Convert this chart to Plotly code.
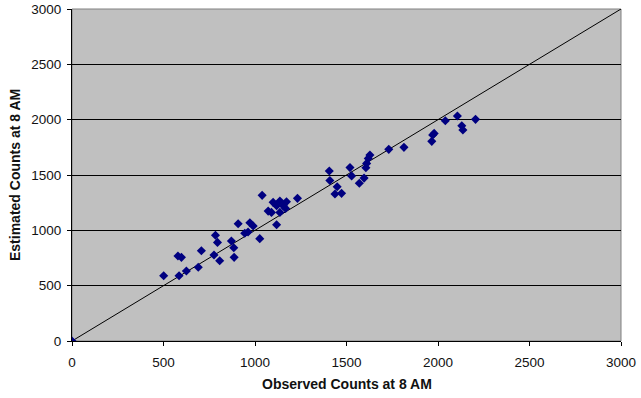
import plotly.graph_objects as go

observed = [0, 501, 585, 579, 598, 625, 690, 707, 776, 807, 784, 795, 871, 884, 886,
            908, 944, 962, 972, 990, 1026, 1039, 1072, 1090, 1136, 1099, 1136, 1172,
            1118, 1154, 1167, 1232, 1118, 1406, 1409, 1449, 1437, 1473, 1519, 1528,
            1570, 1596, 1606, 1610, 1619, 1628, 1731, 1814, 1966, 1971, 1979, 2040,
            2106, 2130, 2136, 2205]
estimated = [0, 590, 590, 768, 756, 632, 666, 816, 777, 725, 955, 891, 903, 843, 756,
             1060, 973, 985, 1069, 1039, 925, 1316, 1174, 1162, 1162, 1253, 1265, 1258,
             1222, 1222, 1198, 1289, 1050, 1536, 1450, 1394, 1328, 1334, 1567, 1492,
             1425, 1472, 1566, 1605, 1650, 1680, 1732, 1750, 1804, 1861, 1876, 1990,
             2033, 1945, 1906, 2003]
line_x = [0, 3000]
line_y = [0, 3000]
ticks = [0, 500, 1000, 1500, 2000, 2500, 3000]
x_title = "Observed Counts at 8 AM"
y_title = "Estimated Counts at 8 AM"

fig = go.Figure()
fig.add_trace(go.Scatter(x=line_x, y=line_y, mode="lines",
                         line=dict(color="black", width=1), hoverinfo="skip"))
fig.add_trace(go.Scatter(x=observed, y=estimated, mode="markers",
                         marker=dict(symbol="diamond", color="#000080", size=7,
                                     line=dict(width=0))))

font = dict(family="Liberation Sans, Arial, sans-serif", size=13.5, color="#111111")
fig.update_layout(
    width=641, height=398,
    margin=dict(l=72, r=20, t=9, b=57, autoexpand=False),
    paper_bgcolor="white", plot_bgcolor="#c0c0c0",
    showlegend=False, font=font,
    xaxis=dict(range=[0, 3000], tickvals=ticks, showgrid=False, zeroline=False,
               showline=True, linecolor="black", linewidth=1, automargin=False,
               ticks="outside", ticklen=4, tickcolor="black", ticklabelstandoff=5),
    yaxis=dict(range=[0, 3000], tickvals=ticks, showgrid=True, gridcolor="black",
               gridwidth=1, zeroline=False, automargin=False,
               showline=True, linecolor="black", linewidth=1,
               ticks="outside", ticklen=4, tickcolor="black", ticklabelstandoff=3),
    shapes=[dict(type="rect", xref="x domain", yref="y domain", x0=0, x1=1, y0=0, y1=1,
                 line=dict(color="#808080", width=1), layer="below")],
    annotations=[
        dict(text="<b>" + x_title + "</b>", xref="paper", yref="paper", x=0.5, y=0,
             yshift=-43, yanchor="middle", showarrow=False,
             font=dict(size=14, color="#111111")),
        dict(text="<b>" + y_title + "</b>", xref="paper", yref="paper", x=0, y=0.5,
             xshift=-57, xanchor="center", textangle=-90, showarrow=False,
             font=dict(size=14, color="#111111")),
    ],
)
fig.write_html("out.html", config={"displayModeBar": False},
               post_script="document.body.style.margin='0';"
                           "document.body.style.overflow='hidden';")
